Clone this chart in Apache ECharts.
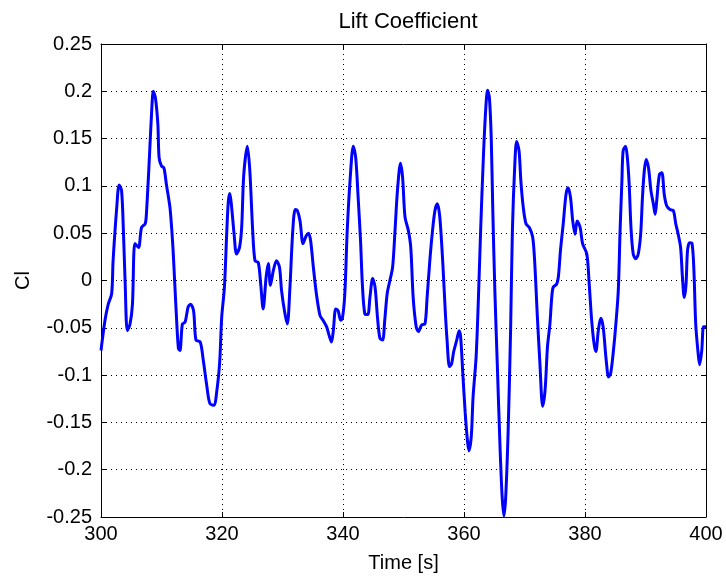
<!DOCTYPE html>
<html>
<head>
<meta charset="utf-8">
<script src="https://cdn.jsdelivr.net/npm/echarts@6/dist/echarts.min.js"></script>
<style>
html,body{margin:0;padding:0;background:#fff;}
#chart{width:726px;height:579px;}
</style>
</head>
<body>
<div id="chart"></div>
<script>
// Sample times (s)
var time = [
300.0,300.66,301.2,301.76,302.0,302.6,303.0,303.4,303.7,304.0,304.35,304.8,305.2,305.6,306.2,306.7,307.3,307.5,308.0,308.4,308.65,309.0,309.4,309.6,310.0,310.4,310.8,311.4,311.85,312.2,312.5,312.8,313.05,313.45,313.9,314.4,314.8,315.3,315.7,316.4,316.9,317.5,318.0,318.7,319.1,319.6,319.95,320.4,320.8,321.05,321.3,321.6,322.0,322.4,322.9,323.25,323.6,324.2,324.6,325.07,325.45,326.0,326.4,326.8,327.3,327.65,328.0,328.5,329.0,329.5,329.85,330.4,330.8,331.2,331.7,332.1,332.45,332.9,333.4,333.9,334.3,334.65,335.1,335.6,336.2,336.7,337.3,337.7,338.1,338.4,338.8,339.2,339.6,339.9,340.3,340.7,341.2,341.7,342.1,342.5,342.9,343.2,343.6,344.1,344.45,344.9,345.3,345.7,346.1,346.55,346.9,347.3,347.75,348.2,348.6,349.0,349.5,349.85,350.25,350.8,351.2,351.6,352.1,352.45,353.0,353.55,353.9,354.4,354.8,355.2,355.6,356.0,356.5,356.9,357.2,357.6,357.95,358.3,358.8,359.2,359.45,359.8,360.2,360.55,360.8,361.2,361.5,362.0,362.35,362.75,363.2,363.6,363.9,364.2,364.5,364.75,365.1,365.5,365.95,366.3,366.6,366.9,367.3,367.7,368.0,368.4,368.7,369.1,369.4,369.8,370.25,370.8,371.35,371.7,372.1,372.55,373.0,373.4,373.8,374.2,374.5,374.75,375.3,375.6,375.95,376.4,376.86,377.2,377.6,377.97,378.35,378.7,379.2,379.6,380.3,380.7,381.1,381.5,381.8,382.2,382.6,383.0,383.5,383.9,384.25,384.7,385.1,385.5,385.8,386.1,386.3,386.7,387.0,387.3,387.6,387.97,388.4,388.8,389.2,389.5,389.8,390.1,390.5,390.9,391.3,391.6,391.85,392.3,392.7,393.1,393.5,394.05,394.6,395.0,395.4,395.8,396.1,396.4,396.7,396.95,397.3,397.7,398.0,398.3,398.7,398.95,399.3,399.6,400.0
];
// Lift coefficient Cl at each sample
var cl = [
-0.074,-0.042,-0.025,-0.014,0.021,0.077,0.101,0.095,0.053,-0.004,-0.053,-0.046,-0.025,0.039,0.035,0.056,0.060,0.070,0.130,0.182,0.200,0.193,0.165,0.130,0.121,0.119,0.102,0.077,0.039,-0.004,-0.042,-0.072,-0.074,-0.046,-0.044,-0.028,-0.025,-0.032,-0.063,-0.065,-0.084,-0.112,-0.130,-0.132,-0.119,-0.088,-0.039,-0.007,0.053,0.084,0.092,0.077,0.049,0.028,0.035,0.056,0.112,0.142,0.116,0.053,0.021,0.019,-0.004,-0.030,0.004,0.018,-0.005,0.011,0.021,0.014,-0.011,-0.035,-0.046,-0.011,0.053,0.075,0.074,0.063,0.039,0.047,0.050,0.042,0.014,-0.014,-0.037,-0.042,-0.049,-0.058,-0.065,-0.053,-0.030,-0.032,-0.042,-0.040,-0.014,0.053,0.109,0.142,0.130,0.088,0.042,-0.004,-0.035,-0.036,-0.018,0.002,-0.007,-0.039,-0.061,-0.063,-0.042,-0.014,0.000,0.014,0.053,0.095,0.124,0.109,0.067,0.053,0.035,-0.018,-0.049,-0.054,-0.047,-0.046,-0.018,0.025,0.053,0.074,0.081,0.067,0.018,-0.032,-0.063,-0.091,-0.088,-0.075,-0.063,-0.053,-0.060,-0.098,-0.140,-0.168,-0.180,-0.165,-0.123,-0.081,-0.025,0.053,0.130,0.182,0.201,0.193,0.151,0.077,-0.011,-0.088,-0.175,-0.228,-0.249,-0.228,-0.158,-0.053,0.053,0.123,0.147,0.137,0.105,0.077,0.060,0.056,0.046,0.018,-0.035,-0.088,-0.133,-0.116,-0.070,-0.046,-0.018,-0.007,-0.004,0.004,0.032,0.060,0.091,0.098,0.088,0.063,0.049,0.063,0.056,0.039,0.028,-0.004,-0.042,-0.067,-0.075,-0.053,-0.040,-0.049,-0.084,-0.102,-0.098,-0.074,-0.046,-0.011,0.053,0.105,0.137,0.142,0.130,0.102,0.056,0.028,0.023,0.028,0.049,0.088,0.116,0.128,0.119,0.095,0.081,0.070,0.084,0.112,0.114,0.091,0.079,0.075,0.074,0.060,0.049,0.035,0.004,-0.018,-0.004,0.032,0.040,0.039,0.011,-0.046,-0.077,-0.089,-0.074,-0.049,-0.049
];

var pts = time.map(function (t, i) { return [t, cl[i]]; });

var fontFam = '"Liberation Sans", Arial, sans-serif';
var labelStyle = { color: '#000', fontFamily: fontFam, fontSize: 20 };

function fmtY(v) { return String(parseFloat(v.toFixed(2))); }

var chart = echarts.init(document.getElementById('chart'), null, { renderer: 'canvas' });
chart.setOption({
  animation: false,
  backgroundColor: '#fff',
  title: {
    text: 'Lift Coefficient',
    left: 403, top: 6, textAlign: 'center',
    textStyle: { color: '#000', fontFamily: fontFam, fontSize: 22, fontWeight: 'normal' }
  },
  grid: { left: 101, right: 20, top: 44, bottom: 62 },
  xAxis: [{
    type: 'value', min: 300, max: 400, interval: 20, position: 'bottom',
    name: 'Time [s]', nameLocation: 'middle', nameGap: 36,
    nameTextStyle: labelStyle,
    axisLine: { onZero: false, lineStyle: { color: '#000', width: 1 } },
    axisTick: { inside: true, length: 5, lineStyle: { color: '#000' } },
    axisLabel: Object.assign({ margin: 7 }, labelStyle),
    splitLine: { show: true, lineStyle: { color: '#000', type: [1, 4], width: 1 } }
  }, {
    type: 'value', min: 300, max: 400, interval: 20, position: 'top',
    axisLine: { onZero: false, lineStyle: { color: '#000', width: 1 } },
    axisTick: { inside: true, length: 5, lineStyle: { color: '#000' } },
    axisLabel: { show: false },
    splitLine: { show: false }
  }],
  yAxis: [{
    type: 'value', min: -0.25, max: 0.25, interval: 0.05, position: 'left',
    name: 'Cl', nameLocation: 'middle', nameGap: 68, nameRotate: 90,
    nameTextStyle: labelStyle,
    axisLine: { onZero: false, lineStyle: { color: '#000', width: 1 } },
    axisTick: { inside: true, length: 5, lineStyle: { color: '#000' } },
    axisLabel: Object.assign({ margin: 9, formatter: fmtY }, labelStyle),
    splitLine: { show: true, lineStyle: { color: '#000', type: [1, 4], width: 1 } }
  }, {
    type: 'value', min: -0.25, max: 0.25, interval: 0.05, position: 'right',
    axisLine: { onZero: false, lineStyle: { color: '#000', width: 1 } },
    axisTick: { inside: true, length: 5, lineStyle: { color: '#000' } },
    axisLabel: { show: false },
    splitLine: { show: false }
  }],
  series: [{
    type: 'line',
    data: pts,
    xAxisIndex: 0, yAxisIndex: 0,
    showSymbol: false,
    smooth: 0.3,
    lineStyle: { color: '#0000ff', width: 3 },
    z: 5
  }]
});
</script>
</body>
</html>
